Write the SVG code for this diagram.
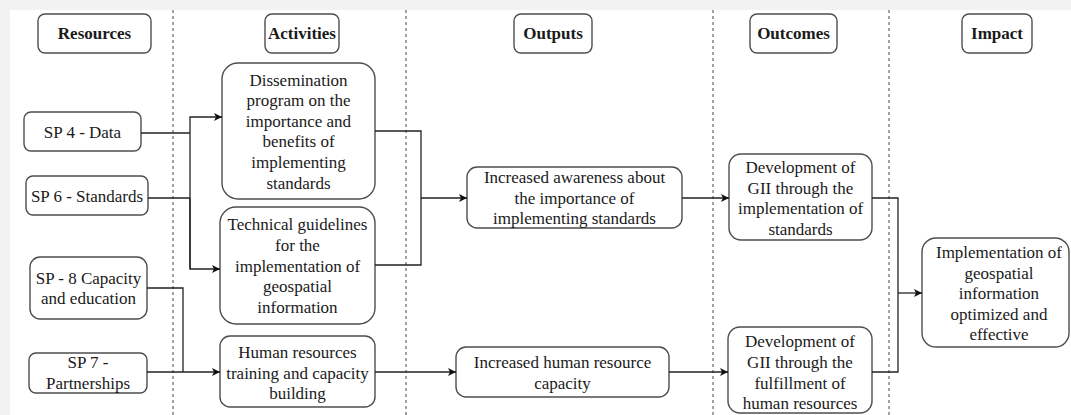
<svg xmlns="http://www.w3.org/2000/svg" width="1071" height="415" viewBox="0 0 1071 415">
  <style>
    .box { fill: #ffffff; stroke: #4d4d4d; stroke-width: 1.4; }
    .lbl { font-family: "Liberation Serif", "Times New Roman", serif; font-size: 17px; fill: #1a1a1a; text-anchor: middle; }
    .hdr { font-weight: bold; }
    .lane { stroke: #444; stroke-width: 1; stroke-dasharray: 3 3; fill: none; }
    .edge { fill: none; stroke: #222; stroke-width: 1.3; }
  </style>
  <defs>
    <marker id="arrow" viewBox="0 0 10 10" refX="10" refY="5" markerWidth="8" markerHeight="8" markerUnits="userSpaceOnUse" orient="auto">
      <path d="M0,0 L10,5 L0,10 L2.5,5 z" fill="#111"/>
    </marker>
  </defs>

  <!-- page -->
  <rect x="0" y="0" width="1071" height="415" fill="#f2f2f2"/>
  <rect x="10" y="10" width="1061" height="405" fill="#ffffff"/>

  <!-- column separators -->
  <g id="lanes">
    <line class="lane" x1="173" y1="10" x2="173" y2="415"/>
    <line class="lane" x1="406" y1="10" x2="406" y2="415"/>
    <line class="lane" x1="713" y1="10" x2="713" y2="415"/>
    <line class="lane" x1="889" y1="10" x2="889" y2="415"/>
  </g>

  <!-- column headers -->
  <g id="hdr-resources">
    <rect class="box" x="38" y="14" width="113" height="39" rx="7"/>
    <text class="lbl hdr" x="94.5" y="39">Resources</text>
  </g>
  <g id="hdr-activities">
    <rect class="box" x="265" y="14" width="74" height="39" rx="7"/>
    <text class="lbl hdr" x="302" y="39">Activities</text>
  </g>
  <g id="hdr-outputs">
    <rect class="box" x="514" y="14" width="78" height="39" rx="7"/>
    <text class="lbl hdr" x="553" y="39">Outputs</text>
  </g>
  <g id="hdr-outcomes">
    <rect class="box" x="750" y="14" width="87" height="39" rx="7"/>
    <text class="lbl hdr" x="793.5" y="39">Outcomes</text>
  </g>
  <g id="hdr-impact">
    <rect class="box" x="962" y="14" width="70" height="39" rx="7"/>
    <text class="lbl hdr" x="997" y="39">Impact</text>
  </g>

  <!-- resources -->
  <g id="sp4">
    <rect class="box" x="24" y="112" width="117" height="39" rx="7"/>
    <text class="lbl" x="82.5" y="138">SP 4 - Data</text>
  </g>
  <g id="sp6">
    <rect class="box" x="26" y="176" width="122" height="39" rx="7"/>
    <text class="lbl" x="87" y="202">SP 6 - Standards</text>
  </g>
  <g id="sp8">
    <rect class="box" x="30" y="257" width="117" height="62" rx="10"/>
    <text class="lbl" x="88.5" y="284">SP - 8 Capacity</text>
    <text class="lbl" x="88.5" y="304">and education</text>
  </g>
  <g id="sp7">
    <rect class="box" x="29" y="353" width="118" height="40" rx="7"/>
    <text class="lbl" x="88" y="368">SP 7 -</text>
    <text class="lbl" x="88" y="389">Partnerships</text>
  </g>

  <!-- activities -->
  <g id="dissemination">
    <rect class="box" x="222" y="63" width="153" height="136" rx="16"/>
    <text class="lbl" x="298.5" y="86">Dissemination</text>
    <text class="lbl" x="298.5" y="106">program on the</text>
    <text class="lbl" x="298.5" y="127">importance and</text>
    <text class="lbl" x="298.5" y="147">benefits of</text>
    <text class="lbl" x="298.5" y="168">implementing</text>
    <text class="lbl" x="298.5" y="189">standards</text>
  </g>
  <g id="guidelines">
    <rect class="box" x="220" y="207" width="155" height="117" rx="16"/>
    <text class="lbl" x="297.5" y="230">Technical guidelines</text>
    <text class="lbl" x="297.5" y="251">for the</text>
    <text class="lbl" x="297.5" y="272">implementation of</text>
    <text class="lbl" x="297.5" y="292">geospatial</text>
    <text class="lbl" x="297.5" y="313">information</text>
  </g>
  <g id="training">
    <rect class="box" x="220" y="336" width="155" height="71" rx="10"/>
    <text class="lbl" x="297.5" y="358">Human resources</text>
    <text class="lbl" x="297.5" y="379">training and capacity</text>
    <text class="lbl" x="297.5" y="399">building</text>
  </g>

  <!-- outputs -->
  <g id="awareness">
    <rect class="box" x="467" y="167" width="215" height="61" rx="10"/>
    <text class="lbl" x="574.5" y="183">Increased awareness about</text>
    <text class="lbl" x="574.5" y="204">the importance of</text>
    <text class="lbl" x="574.5" y="224">implementing standards</text>
  </g>
  <g id="hr-capacity">
    <rect class="box" x="456" y="347" width="213" height="50" rx="10"/>
    <text class="lbl" x="562.5" y="368">Increased human resource</text>
    <text class="lbl" x="562.5" y="389">capacity</text>
  </g>

  <!-- outcomes -->
  <g id="gii-standards">
    <rect class="box" x="729" y="154" width="143" height="86" rx="12"/>
    <text class="lbl" x="800.5" y="173">Development of</text>
    <text class="lbl" x="800.5" y="194">GII through the</text>
    <text class="lbl" x="800.5" y="214">implementation of</text>
    <text class="lbl" x="800.5" y="235">standards</text>
  </g>
  <g id="gii-hr">
    <rect class="box" x="728" y="327" width="144" height="86" rx="12"/>
    <text class="lbl" x="800" y="347">Development of</text>
    <text class="lbl" x="800" y="368">GII through the</text>
    <text class="lbl" x="800" y="389">fulfillment of</text>
    <text class="lbl" x="800" y="409">human resources</text>
  </g>

  <!-- impact -->
  <g id="impact">
    <rect class="box" x="922" y="238" width="147" height="109" rx="14"/>
    <text class="lbl" x="999" y="258">Implementation of</text>
    <text class="lbl" x="999" y="279">geospatial</text>
    <text class="lbl" x="999" y="299">information</text>
    <text class="lbl" x="999" y="320">optimized and</text>
    <text class="lbl" x="999" y="340">effective</text>
  </g>

  <!-- connectors -->
  <g id="connectors">
    <polyline class="edge" points="141,133 190,133"/>
    <polyline class="edge" points="148,198 190,198"/>
    <path class="edge" d="M190,269 L190,117 L222,117" marker-end="url(#arrow)"/>
    <path class="edge" d="M190,198 L190,269 L220,269" marker-end="url(#arrow)"/>
    <path class="edge" d="M147,288 L183,288 L183,372"/>
    <path class="edge" d="M147,372 L220,372" marker-end="url(#arrow)"/>
    <path class="edge" d="M375,131 L421,131 L421,265 L375,265"/>
    <path class="edge" d="M421,198 L467,198" marker-end="url(#arrow)"/>
    <path class="edge" d="M375,372 L456,372" marker-end="url(#arrow)"/>
    <path class="edge" d="M682,198 L729,198" marker-end="url(#arrow)"/>
    <path class="edge" d="M669,372 L728,372" marker-end="url(#arrow)"/>
    <path class="edge" d="M872,198 L898,198 L898,372 L872,372"/>
    <path class="edge" d="M898,293 L922,293" marker-end="url(#arrow)"/>
  </g>
</svg>
